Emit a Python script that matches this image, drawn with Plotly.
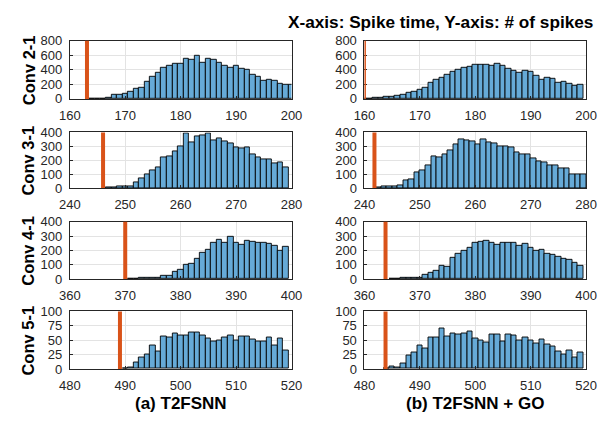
import plotly.graph_objects as go

# ---------------- data ----------------
row_labels = ["Conv 2-1", "Conv 3-1", "Conv 4-1", "Conv 5-1"]
col_labels = ["(a) T2FSNN", "(b) T2FSNN + GO"]
title_text = "X-axis: Spike time, Y-axis: # of spikes"

x_ranges = [[160, 200], [240, 280], [360, 400], [480, 520]]
x_ticks = [[160, 170, 180, 190, 200], [240, 250, 260, 270, 280],
           [360, 370, 380, 390, 400], [480, 490, 500, 510, 520]]
y_ranges = [[0, 800], [0, 400], [0, 400], [0, 100]]
y_ticks = [[0, 200, 400, 600, 800], [0, 100, 200, 300, 400],
           [0, 100, 200, 300, 400], [0, 25, 50, 75, 100]]

bin_width = 1

# Conv 2-1
c21_a_start = 163.5
c21_a_counts = [3, 3, 5, 20, 55, 55, 75, 100, 135, 160, 230, 300, 360, 430, 460, 480, 480,
                550, 545, 590, 500, 550, 535, 500, 450, 430, 455, 420, 395, 335, 300, 245,
                270, 245, 205, 195, 195]
c21_a_marker = 163.1
c21_b_start = 159.5
c21_b_counts = [3, 5, 15, 18, 25, 35, 50, 60, 80, 95, 130, 160, 220, 270, 290, 330, 370, 400,
                430, 445, 470, 470, 470, 455, 480, 450, 410, 390, 365, 390, 375, 320, 270,
                290, 280, 225, 230, 205, 185, 195]
c21_b_marker = 159.9

# Conv 3-1
c31_a_start = 246.5
c31_a_counts = [2, 5, 10, 10, 10, 40, 70, 100, 125, 150, 220, 225, 265, 300, 395, 330, 370,
                375, 390, 340, 360, 335, 320, 295, 285, 295, 245, 220, 205, 205, 180, 185, 150]
c31_a_marker = 246.0
c31_b_start = 242
c31_b_counts = [3, 10, 12, 12, 20, 55, 65, 110, 125, 160, 230, 220, 245, 270, 315, 350, 345,
                335, 315, 350, 330, 320, 300, 300, 290, 255, 240, 240, 210, 190, 185, 160,
                165, 140, 140, 100, 95, 95]
c31_b_marker = 241.8

# Conv 4-1
c41_a_start = 370.5
c41_a_counts = [3, 3, 5, 8, 8, 5, 20, 25, 50, 65, 100, 105, 140, 180, 205, 250, 275, 250,
                295, 250, 240, 265, 260, 255, 255, 245, 230, 200, 225]
c41_a_marker = 370.0
c41_b_start = 364.5
c41_b_counts = [2, 3, 5, 8, 8, 10, 30, 40, 60, 95, 85, 150, 175, 195, 220, 250, 260, 265,
                255, 240, 255, 250, 250, 230, 245, 215, 200, 205, 175, 170, 155, 140, 135,
                110, 95]
c41_b_marker = 363.8

# Conv 5-1
c51_a_start = 489.5
c51_a_counts = [1, 3, 12, 20, 26, 40, 31, 56, 55, 62, 59, 58, 63, 63, 58, 53, 47, 50, 55, 58,
                49, 56, 56, 51, 48, 48, 54, 41, 53, 32]
c51_a_marker = 489.05
c51_b_start = 483.5
c51_b_counts = [1, 4, 2, 9, 24, 28, 41, 36, 55, 54, 71, 57, 62, 60, 62, 65, 53, 49, 46, 60,
                60, 48, 60, 58, 49, 55, 49, 44, 52, 42, 39, 30, 26, 32, 20, 28]
c51_b_marker = 483.8

panels = [
    [(c21_a_start, c21_a_counts, c21_a_marker), (c21_b_start, c21_b_counts, c21_b_marker)],
    [(c31_a_start, c31_a_counts, c31_a_marker), (c31_b_start, c31_b_counts, c31_b_marker)],
    [(c41_a_start, c41_a_counts, c41_a_marker), (c41_b_start, c41_b_counts, c41_b_marker)],
    [(c51_a_start, c51_a_counts, c51_a_marker), (c51_b_start, c51_b_counts, c51_b_marker)],
]

# ---------------- layout ----------------
W, H = 610, 422
col_px = [(61, 291), (366.7, 596.7)]
row_px = [(35, 95.3), (130, 187.7), (222.7, 282), (315.7, 375.3)]

FONT = "Liberation Sans, Arial, sans-serif"
TXT = "#262626"
BAR_FILL = "rgb(102,170,215)"
RED = "#D95319"
TICK_SIZE = 13

fig = go.Figure()
layout = dict(
    width=W, height=H,
    margin=dict(l=0, r=0, t=0, b=0),
    paper_bgcolor="white", plot_bgcolor="white",
    showlegend=False, bargap=0,
    font=dict(family=FONT, size=TICK_SIZE, color=TXT),
)
shapes = []
annotations = []

k = 0
for r in range(4):
    for c in range(2):
        k += 1
        xa = "x" if k == 1 else f"x{k}"
        ya = "y" if k == 1 else f"y{k}"
        start, counts, marker = panels[r][c]
        centers = [start + (i + 0.5) * bin_width for i in range(len(counts))]
        fig.add_trace(go.Bar(
            x=centers, y=counts, width=bin_width, xaxis=xa, yaxis=ya,
            marker=dict(color=BAR_FILL, line=dict(color="black", width=0.9)),
            hoverinfo="x+y",
        ))
        x0, x1 = col_px[c]
        y0, y1 = row_px[r]
        layout["xaxis" if k == 1 else f"xaxis{k}"] = dict(
            domain=[x0 / W, x1 / W], anchor=ya, range=x_ranges[r],
            tickvals=x_ticks[r], ticks="inside", ticklen=3, tickcolor=TXT,
            showline=True, mirror=True, linecolor=TXT, linewidth=1,
            showgrid=True, gridcolor="#e3e3e3", gridwidth=1,
            zeroline=False, tickfont=dict(size=TICK_SIZE, color=TXT),
            ticklabelstandoff=4,
        )
        layout["yaxis" if k == 1 else f"yaxis{k}"] = dict(
            domain=[1 - y1 / H, 1 - y0 / H], anchor=xa, range=y_ranges[r],
            tickvals=y_ticks[r], ticks="inside", ticklen=3, tickcolor=TXT,
            showline=True, mirror=True, linecolor=TXT, linewidth=1,
            showgrid=True, gridcolor="#e3e3e3", gridwidth=1,
            zeroline=False, tickfont=dict(size=TICK_SIZE, color=TXT),
            ticklabelstandoff=4,
        )
        shapes.append(dict(
            type="line", xref=xa, yref=f"{ya} domain",
            x0=marker, x1=marker, y0=0, y1=1,
            line=dict(color=RED, width=4), layer="above",
        ))

for r in range(4):
    y0, y1 = row_px[r]
    annotations.append(dict(
        text=row_labels[r], xref="paper", yref="paper",
        x=18 / W, y=1 - (y0 + y1) / 2 / H, textangle=-90,
        showarrow=False, xanchor="center", yanchor="middle",
        font=dict(family=FONT, size=16.5, color="black", weight="bold"),
    ))
for c in range(2):
    x0, x1 = col_px[c]
    annotations.append(dict(
        text=col_labels[c], xref="paper", yref="paper",
        x=(x0 + x1) / 2 / W, y=1 - 411.5 / H,
        showarrow=False, xanchor="center", yanchor="middle",
        font=dict(family=FONT, size=17, color="black", weight="bold"),
    ))
annotations.append(dict(
    text=title_text, xref="paper", yref="paper",
    x=606 / W, y=1 - 16 / H, showarrow=False,
    xanchor="right", yanchor="middle",
    font=dict(family=FONT, size=17.2, color="black", weight="bold"),
))

layout["shapes"] = shapes
layout["annotations"] = annotations
fig.update_layout(**layout)
fig.write_html(
    "out.html",
    config={"displayModeBar": False},
    post_script="document.body.style.margin='0';document.body.style.overflow='hidden';",
)
